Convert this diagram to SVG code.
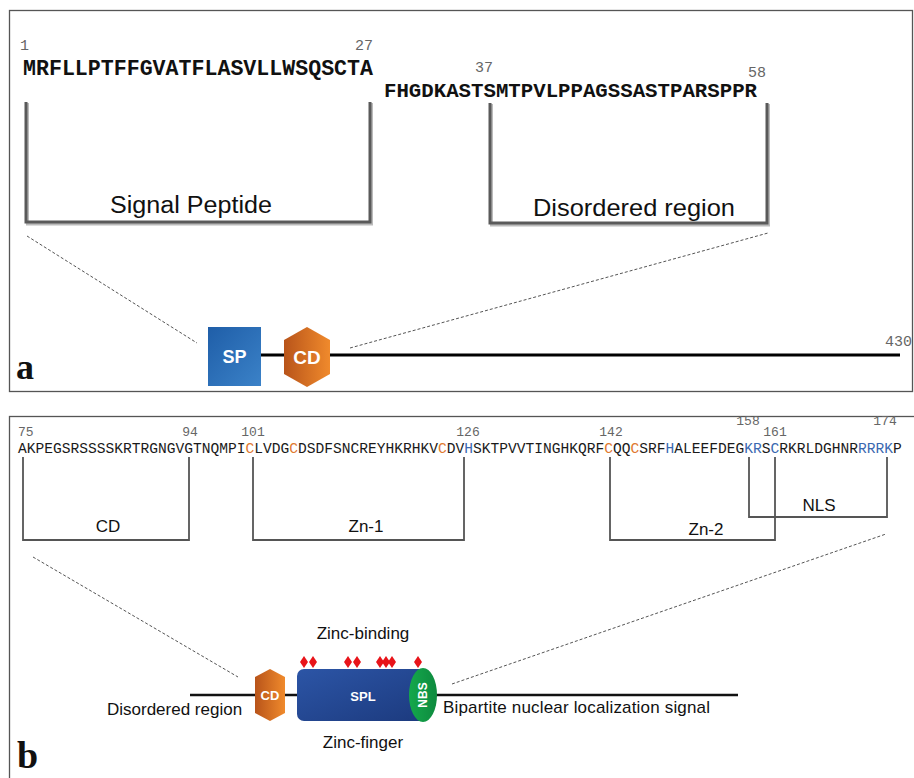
<svg xmlns="http://www.w3.org/2000/svg" width="914" height="778" viewBox="0 0 914 778">
<defs>
<style>
.panel{fill:#fff;stroke:#555;stroke-width:1.3}
.num{font-family:"Liberation Mono",monospace;fill:#666}
.seqA{font-family:"Liberation Mono",monospace;font-weight:bold;fill:#111}
.seqB{font-family:"Liberation Mono",monospace;fill:#1a1a1a;font-size:14.583px}
.o{fill:#e0782f}
.bl{fill:#3a68b0}
.brA{fill:none;stroke:#5a5a5a;stroke-width:3}
.brAs{fill:none;stroke:#bbb;stroke-width:3}
.brB{fill:none;stroke:#555;stroke-width:1.8}
.lab{font-family:"Liberation Sans",Arial,sans-serif;fill:#111}
.dash{fill:none;stroke:#555;stroke-width:1;stroke-dasharray:3 2}
.bb{font-family:"Liberation Sans",Arial,sans-serif;font-weight:bold;fill:#fff}
.panlab{font-family:"Liberation Serif","Times New Roman",serif;font-weight:bold;fill:#111}
.dia{fill:#e8141a}
</style>
<linearGradient id="gSP" x1="0" y1="0" x2="1" y2="1">
<stop offset="0" stop-color="#1f5ea8"/><stop offset="1" stop-color="#3b82c8"/>
</linearGradient>
<linearGradient id="gCD" x1="0" y1="0" x2="1" y2="0">
<stop offset="0" stop-color="#b8541a"/><stop offset="1" stop-color="#f08a2c"/>
</linearGradient>
<linearGradient id="gSPL" x1="0" y1="0" x2="1" y2="1">
<stop offset="0" stop-color="#2c55a6"/><stop offset="1" stop-color="#1c3a7e"/>
</linearGradient>
<linearGradient id="gNBS" x1="0" y1="0" x2="1" y2="0">
<stop offset="0" stop-color="#14a84c"/><stop offset="1" stop-color="#0e8a3e"/>
</linearGradient>
</defs>

<!-- Panel a -->
<g id="panel-a">
<rect class="panel" x="9.5" y="10.5" width="903" height="381"/>
<text class="num" x="20" y="50" font-size="15">1</text>
<text class="num" x="355" y="50" font-size="15">27</text>
<text class="seqA" x="23" y="75" font-size="21.6" textLength="350" lengthAdjust="spacingAndGlyphs">MRFLLPTFFGVATFLASVLLWSQSCTA</text>
<text class="num" x="475" y="72" font-size="15">37</text>
<text class="num" x="748" y="77" font-size="15">58</text>
<text class="seqA" x="384" y="97" font-size="21" textLength="373" lengthAdjust="spacingAndGlyphs">FHGDKASTSMTPVLPPAGSSASTPARSPPR</text>
<text class="panlab" x="16" y="379" font-size="36">a</text>
</g>

<g id="bracket-signal-peptide">
<path class="brAs" d="M27.5,103 V224 H371.5 V103"/>
<path class="brA" d="M26,102 V222 H370 V102"/>
<text class="lab" x="191" y="213" font-size="23" text-anchor="middle" textLength="162" lengthAdjust="spacingAndGlyphs">Signal Peptide</text>
</g>
<g id="bracket-disordered">
<path class="brAs" d="M491.5,104 V225 H768.5 V104"/>
<path class="brA" d="M490,103 V223 H767 V103"/>
<text class="lab" x="634" y="216" font-size="24" text-anchor="middle" textLength="202" lengthAdjust="spacingAndGlyphs">Disordered region</text>
</g>

<g id="connectors-a">
<line class="dash" x1="27" y1="236" x2="197" y2="343"/>
<line class="dash" x1="350" y1="348" x2="768" y2="233"/>
<line x1="261" y1="355" x2="900" y2="355" stroke="#000" stroke-width="3"/>
</g>

<g id="node-SP">
<rect x="208" y="327" width="53" height="59" fill="url(#gSP)"/>
<text class="bb" x="234.5" y="363" font-size="18" text-anchor="middle">SP</text>
</g>
<g id="node-CD-a">
<polygon points="307,327 330,340 330,374 307,387 284,374 284,340" fill="url(#gCD)"/>
<text class="bb" x="307" y="364" font-size="19" text-anchor="middle">CD</text>
</g>
<text class="num" x="912" y="346" font-size="15" text-anchor="end">430</text>

<!-- Panel b -->
<g id="panel-b">
<rect class="panel" x="9.5" y="416.5" width="920" height="380"/>
<text class="num" x="18" y="436" font-size="13">75</text>
<text class="num" x="190" y="436" font-size="13" text-anchor="middle">94</text>
<text class="num" x="253" y="436" font-size="13" text-anchor="middle">101</text>
<text class="num" x="468" y="436" font-size="13" text-anchor="middle">126</text>
<text class="num" x="611" y="436" font-size="13" text-anchor="middle">142</text>
<text class="num" x="748" y="425" font-size="13" text-anchor="middle">158</text>
<text class="num" x="775" y="436" font-size="13" text-anchor="middle">161</text>
<text class="num" x="885" y="425" font-size="13" text-anchor="middle">174</text>
<text class="seqB" x="18" y="453">AKPEGSRSSSSKRTRGNGVGTNQMPI<tspan class="o">C</tspan>LVDG<tspan class="o">C</tspan>DSDFSNCREYHKRHKV<tspan class="o">C</tspan>DV<tspan class="bl">H</tspan>SKTPVVTINGHKQRF<tspan class="o">C</tspan>QQ<tspan class="o">C</tspan>SRF<tspan class="bl">H</tspan>ALEEFDEG<tspan class="bl">KR</tspan>S<tspan class="bl">C</tspan>RKRLDGHNR<tspan class="bl">RRRK</tspan>P</text>
<text class="panlab" x="17" y="768" font-size="38">b</text>
</g>

<g id="bracket-CD">
<path class="brB" d="M23,457 V540 H189 V457"/>
<text class="lab" x="108" y="532" font-size="17" text-anchor="middle">CD</text>
</g>
<g id="bracket-Zn1">
<path class="brB" d="M253,457 V540 H464 V457"/>
<text class="lab" x="366" y="532" font-size="17" text-anchor="middle">Zn-1</text>
</g>
<g id="bracket-Zn2">
<path class="brB" d="M610,457 V540 H775 V457"/>
<text class="lab" x="706" y="535" font-size="17" text-anchor="middle">Zn-2</text>
</g>
<g id="bracket-NLS">
<path class="brB" d="M749,457 V517 H887 V457"/>
<text class="lab" x="819" y="511" font-size="17" text-anchor="middle">NLS</text>
</g>

<g id="connectors-b">
<line class="dash" x1="33" y1="557" x2="238" y2="677"/>
<line class="dash" x1="452" y1="684" x2="886" y2="534"/>
<line x1="190" y1="695" x2="256" y2="695" stroke="#111" stroke-width="2.5"/>
<line x1="284" y1="695" x2="299" y2="695" stroke="#111" stroke-width="2.5"/>
<line x1="435" y1="695" x2="738" y2="695" stroke="#111" stroke-width="2.5"/>
</g>

<g id="node-CD-b">
<polygon points="270,669 285,677 285,713 270,721 255,713 255,677" fill="url(#gCD)"/>
<text class="bb" x="270" y="700" font-size="13" text-anchor="middle">CD</text>
</g>
<g id="node-SPL">
<rect x="297" y="669" width="130" height="52" rx="7" fill="url(#gSPL)"/>
<text class="bb" x="363" y="701" font-size="13" text-anchor="middle">SPL</text>
</g>
<g id="node-NBS">
<ellipse cx="423" cy="695" rx="14" ry="27" fill="url(#gNBS)"/>
<text class="bb" x="0" y="0" font-size="12" text-anchor="middle" transform="translate(427,695) rotate(-90)">NBS</text>
</g>
<g id="zinc-binding-sites">
<polygon class="dia" points="304,656 308,662 304,668 300,662"/>
<polygon class="dia" points="313,656 317,662 313,668 309,662"/>
<polygon class="dia" points="348,656 352,662 348,668 344,662"/>
<polygon class="dia" points="357,656 361,662 357,668 353,662"/>
<polygon class="dia" points="380,656 384,662 380,668 376,662"/>
<polygon class="dia" points="386,656 390,662 386,668 382,662"/>
<polygon class="dia" points="392,656 396,662 392,668 388,662"/>
<polygon class="dia" points="418,656 422,662 418,668 414,662"/>
</g>

<text class="lab" x="363" y="639" font-size="17" text-anchor="middle">Zinc-binding</text>
<text class="lab" x="363" y="748" font-size="17" text-anchor="middle">Zinc-finger</text>
<text class="lab" x="107" y="715" font-size="17">Disordered region</text>
<text class="lab" x="443" y="713" font-size="17" textLength="267" lengthAdjust="spacing">Bipartite nuclear localization signal</text>
</svg>
